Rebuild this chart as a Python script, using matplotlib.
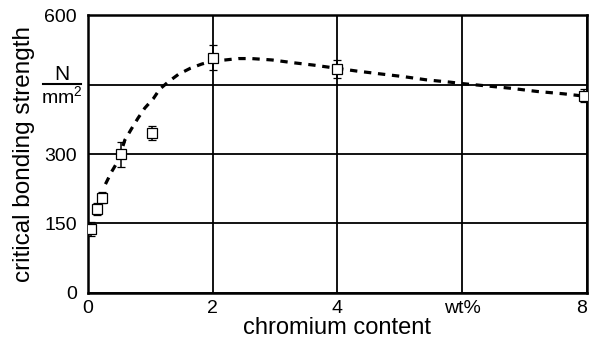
import matplotlib.pyplot as plt

plt.rcParams["font.family"] = ["Liberation Sans", "DejaVu Sans"]
plt.rcParams["mathtext.fontset"] = "custom"
plt.rcParams["mathtext.rm"] = "Liberation Sans"

# measured points
cr = [0.05, 0.14, 0.23, 0.53, 1.03, 2.0, 4.0, 7.95]
strength = [138, 181, 206, 299, 345, 508, 483, 426]
err = [15, 13, 12, 27, 15, 27, 20, 14]

# dashed fit curve
fit_x = [0.28, 0.38, 0.49, 0.59, 0.70, 0.80, 0.91, 1.05, 1.15, 1.29, 1.45, 1.64,
         1.82, 2.0, 2.2, 2.41, 2.62, 2.95, 3.29, 3.61, 3.99, 4.31, 4.68, 5.06,
         5.43, 5.81, 6.0, 6.39, 6.77, 7.2, 7.62, 7.95]
fit_y = [235, 262, 287, 330, 355, 377, 399, 420, 440, 456, 472, 485,
         494, 501, 503, 506, 506, 503, 497, 492, 485, 479, 473, 467,
         460, 455, 452, 447, 442, 435, 430, 425]

xticks = [0, 2, 4, 6, 8]
xlabels = ["0", "2", "4", "wt%", "8"]
yticks = [0, 150, 300, 450, 600]
ylabels = ["0", "150", "300", "", "600"]

fig = plt.figure(figsize=(5.89, 3.46), dpi=100)
ax = fig.add_axes([0.1494, 0.1532, 0.8472, 0.8034])

ax.plot(fit_x, fit_y, color="black", lw=2.3, linestyle=(0, (2.3, 2.1)), zorder=3)
ax.errorbar(cr, strength, yerr=err, fmt="s", ms=6.5, mfc="white", mec="black",
            mew=0.9, ecolor="black", elinewidth=1.1, capsize=3, capthick=1.1,
            zorder=4)

ax.set_xlim(0, 8)
ax.set_ylim(0, 600)
ax.set_xticks(xticks)
ax.set_xticklabels(xlabels)
ax.set_yticks(yticks)
ax.set_yticklabels(ylabels)
ax.tick_params(length=0, labelsize=14)
ax.tick_params(axis="x", pad=5)
ax.tick_params(axis="y", pad=8)
ax.get_xticklabels()[-1].set_ha("right")
ax.grid(True, color="black", lw=1.3)
for s in ax.spines.values():
    s.set_linewidth(1.8)

# unit label in place of the 450 tick
ax.text(-0.052, 0.786, "N", transform=ax.transAxes, ha="center", va="center", fontsize=15)
ax.plot([-0.090, -0.014], [0.752, 0.752], transform=ax.transAxes, color="black",
        lw=1.5, clip_on=False)
ax.text(-0.052, 0.705, r"mm$^{2}$", transform=ax.transAxes, ha="center", va="center",
        fontsize=14)

ax.set_xlabel("chromium content", fontsize=17, labelpad=0)
ax.set_ylabel("critical bonding strength", fontsize=17.5, labelpad=7)

fig.savefig("out.png", dpi=100)
